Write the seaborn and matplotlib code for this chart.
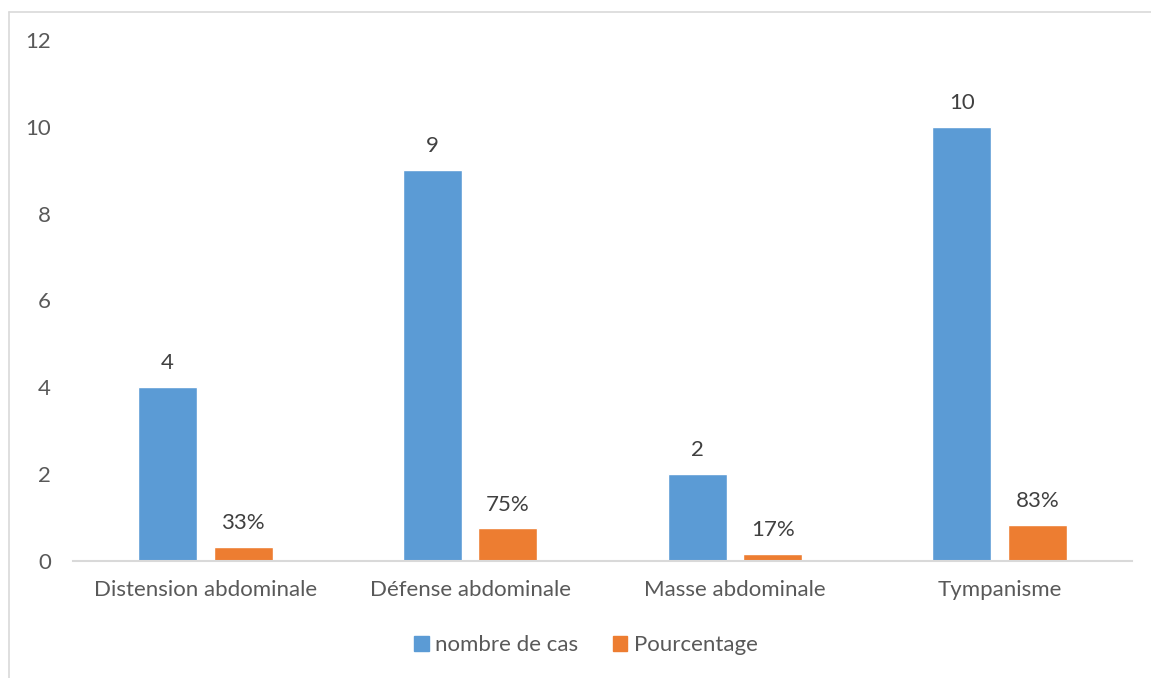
import matplotlib
matplotlib.use("Agg")
import matplotlib.pyplot as plt
from matplotlib.lines import Line2D
import seaborn as sns
import pandas as pd

categories = ["Distension abdominale", "Défense abdominale", "Masse abdominale", "Tympanisme"]
nombre_de_cas = [4, 9, 2, 10]
pourcentage = [0.33, 0.75, 0.17, 0.83]
pourcentage_labels = ["33%", "75%", "17%", "83%"]
series = ["nombre de cas", "Pourcentage"]
y_ticks = [0, 2, 4, 6, 8, 10, 12]

BLUE = "#5B9BD5"
ORANGE = "#ED7D31"
TEXT = "#595959"
LINE = "#D9D9D9"
FS = 16

sns.set_theme(style="white")
plt.rcParams["font.family"] = ["Lato", "DejaVu Sans"]

df = pd.DataFrame({
    "categorie": categories * 2,
    "valeur": nombre_de_cas + pourcentage,
    "serie": [series[0]] * len(categories) + [series[1]] * len(categories),
})

W, H = 1151, 678
fig = plt.figure(figsize=(W / 100, H / 100), dpi=100)
ax = fig.add_axes([73 / W, 1 - 561 / H, (1132 - 73) / W, (561 - 40) / H])

sns.barplot(data=df, x="categorie", y="valeur", hue="serie",
            palette=[BLUE, ORANGE], width=0.57, gap=0.22,
            order=categories, hue_order=series, ax=ax, legend=False,
            saturation=1, errorbar=None)

ax.set_ylim(0, 12)
ax.set_yticks(y_ticks)
ax.set_xlim(-0.5, len(categories) - 0.5)
ax.set_xlabel("")
ax.set_ylabel("")

for s in ["left", "right", "top"]:
    ax.spines[s].set_visible(False)
ax.spines["bottom"].set_color(LINE)
ax.spines["bottom"].set_linewidth(1.5)
ax.tick_params(axis="both", length=0, colors=TEXT, labelsize=FS)
ax.tick_params(axis="y", pad=16)
ax.tick_params(axis="x", pad=14)

ax.bar_label(ax.containers[0], labels=[str(v) for v in nombre_de_cas],
             padding=10, color="#404040", fontsize=FS)
ax.bar_label(ax.containers[1], labels=pourcentage_labels,
             padding=10, color="#404040", fontsize=FS)

handles = [plt.Rectangle((0, 0), 1, 1, color=BLUE), plt.Rectangle((0, 0), 1, 1, color=ORANGE)]
fig.legend(handles, series, loc="center", bbox_to_anchor=(586 / W, 1 - 645 / H),
           ncol=2, frameon=False, fontsize=FS, labelcolor=TEXT,
           handlelength=0.65, handleheight=0.65, handletextpad=0.3, columnspacing=1.55)

# Chart area border (left and top edges)
fig.add_artist(Line2D([9 / W, 9 / W], [0, 1 - 12 / H], color=LINE, lw=1.2,
                      transform=fig.transFigure))
fig.add_artist(Line2D([9 / W, 1], [1 - 12 / H, 1 - 12 / H], color=LINE, lw=1.2,
                      transform=fig.transFigure))

fig.savefig("out.png", dpi=100, facecolor="white")
